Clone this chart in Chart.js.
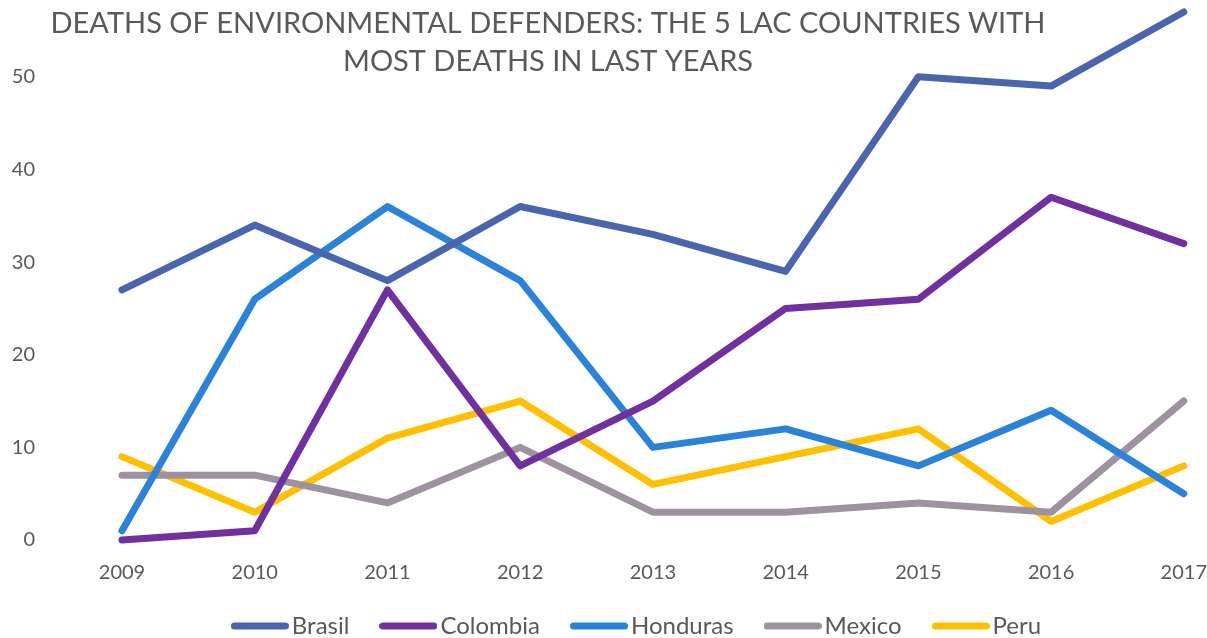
<!DOCTYPE html>
<html>
<head>
<meta charset="utf-8">
<script src="https://cdn.jsdelivr.net/npm/chart.js@4"></script>
<style>
    html, body { margin: 0; padding: 0; background: #ffffff; }
    #box { width: 1207px; height: 638px; }
</style>
</head>
<body>
<div id="box"><canvas id="chart"></canvas></div>
<script>
// Données du graphique
const years = ["2009", "2010", "2011", "2012", "2013", "2014", "2015", "2016", "2017"];
const brasil = [27, 34, 28, 36, 33, 29, 50, 49, 57];
const colombia = [0, 1, 27, 8, 15, 25, 26, 37, 32];
const honduras = [1, 26, 36, 28, 10, 12, 8, 14, 5];
const mexico = [7, 7, 4, 10, 3, 3, 4, 3, 15];
const peru = [9, 3, 11, 15, 6, 9, 12, 2, 8];
const yTicks = [0, 10, 20, 30, 40, 50];
const titleLines = [
    "DEATHS OF ENVIRONMENTAL DEFENDERS: THE 5 LAC COUNTRIES WITH",
    "MOST DEATHS IN LAST YEARS"
];

const textColor = "#595959";
const fontFamily = "Lato, 'Open Sans', sans-serif";

// Petit trait arrondi pour la légende
function legendLine(color) {
    const c = document.createElement("canvas");
    c.width = 58;
    c.height = 8;
    const g = c.getContext("2d");
    g.strokeStyle = color;
    g.lineWidth = 7;
    g.lineCap = "round";
    g.beginPath();
    g.moveTo(3.5, 4);
    g.lineTo(54.5, 4);
    g.stroke();
    return c;
}

function serie(label, values, color) {
    return {
        label: label,
        data: values,
        xAxisID: "x",
        yAxisID: "y",
        borderColor: color,
        backgroundColor: color,
        borderWidth: 7,
        borderCapStyle: "round",
        borderJoinStyle: "round",
        pointStyle: legendLine(color),
        pointRadius: 0,
        pointHoverRadius: 0,
        tension: 0,
        fill: false,
        clip: false
    };
}

// Axe vide servant uniquement d'espacement
function spacer(axis, position, size) {
    return {
        type: "linear",
        axis: axis,
        position: position,
        weight: 0,
        grid: { display: false, drawTicks: false },
        border: { display: false },
        ticks: { display: false },
        afterFit(scale) {
            if (axis === "x") scale.height = size;
            else scale.width = size;
        }
    };
}

// Titre dessiné par-dessus la zone de tracé
const titlePlugin = {
    id: "titleOver",
    afterDraw(chart) {
        const ctx = chart.ctx;
        ctx.save();
        ctx.fillStyle = textColor;
        ctx.font = "29px " + fontFamily;
        ctx.textAlign = "center";
        ctx.textBaseline = "middle";
        ctx.fillText(titleLines[0], 548, 24);
        ctx.fillText(titleLines[1], 548, 62);
        ctx.restore();
    }
};

// Position de la légende
const legendPlace = {
    id: "legendPlace",
    beforeInit(chart) {
        const fit = chart.legend.fit;
        chart.legend.fit = function () {
            fit.call(this);
            this.height = 53;
        };
    },
    afterLayout(chart) {
        const lg = chart.legend;
        lg.left = 101;
        lg.right = 1180;
        lg.top = 575;
    }
};

new Chart(document.getElementById("chart"), {
    type: "line",
    data: {
        labels: years,
        datasets: [
            serie("Brasil", brasil, "#4a65ad"),
            serie("Colombia", colombia, "#7030a0"),
            serie("Honduras", honduras, "#2b82d9"),
            serie("Mexico", mexico, "#9e91a0"),
            serie("Peru", peru, "#ffc000")
        ]
    },
    options: {
        responsive: true,
        maintainAspectRatio: false,
        animation: false,
        layout: { padding: { left: 12, right: 10, top: 1, bottom: 0 } },
        plugins: {
            title: { display: false },
            tooltip: { enabled: false },
            legend: {
                position: "bottom",
                labels: {
                    usePointStyle: true,
                    pointStyleWidth: 40,
                    padding: 39,
                    color: textColor,
                    font: { family: fontFamily, size: 24 }
                }
            }
        },
        scales: {
            y: {
                min: 0,
                max: 57,
                bounds: "data",
                weight: 1,
                grid: { display: false, drawTicks: false },
                border: { display: false },
                afterFit(scale) { scale.width = 23; },
                afterBuildTicks(scale) {
                    scale.ticks = yTicks.map(v => ({ value: v }));
                },
                ticks: {
                    color: textColor,
                    padding: 0,
                    font: { family: fontFamily, size: 20 }
                }
            },
            gapY: spacer("y", "left", 87),
            x: {
                offset: false,
                weight: 1,
                grid: { display: false, drawTicks: false },
                border: { display: false },
                afterFit(scale) { scale.height = 24; },
                ticks: {
                    color: textColor,
                    padding: 0,
                    maxRotation: 0,
                    font: { family: fontFamily, size: 20 }
                }
            },
            gapX: spacer("x", "bottom", 21)
        }
    },
    plugins: [titlePlugin, legendPlace]
});
</script>
</body>
</html>
